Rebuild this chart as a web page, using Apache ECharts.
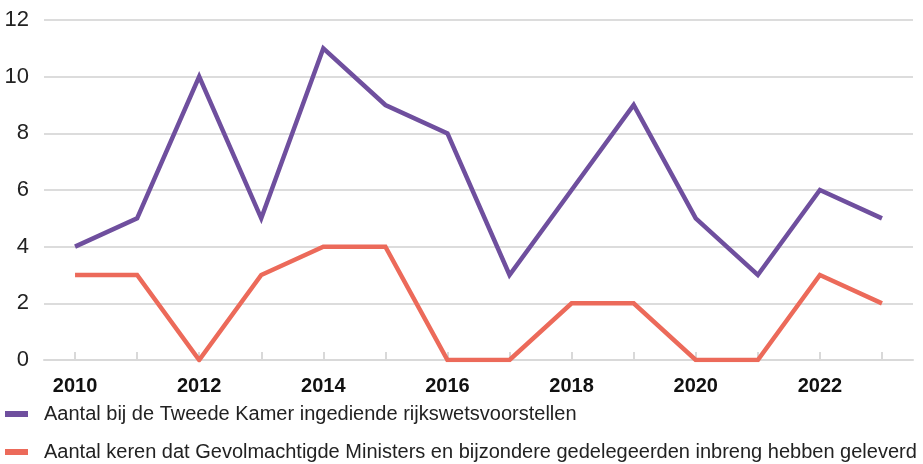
<!DOCTYPE html>
<html>
<head>
<meta charset="utf-8">
<script src="https://cdn.jsdelivr.net/npm/echarts@6/dist/echarts.min.js"></script>
<style>
  html, body { margin: 0; padding: 0; background: #fff; }
  #chart { width: 923px; height: 464px; }
</style>
</head>
<body>
<div id="chart"></div>
<script>
var years = ['2010', '2011', '2012', '2013', '2014', '2015', '2016', '2017', '2018', '2019', '2020', '2021', '2022', '2023'];
var wetsvoorstellen = [4, 5, 10, 5, 11, 9, 8, 3, 6, 9, 5, 3, 6, 5];
var inbreng = [3, 3, 0, 3, 4, 4, 0, 0, 2, 2, 0, 0, 3, 2];
var nameA = 'Aantal bij de Tweede Kamer ingediende rijkswetsvoorstellen';
var nameB = 'Aantal keren dat Gevolmachtigde Ministers en bijzondere gedelegeerden inbreng hebben geleverd';

var myChart = echarts.init(document.getElementById('chart'));
var font = 'Liberation Sans, Arial, sans-serif';

function legendFor(name, top) {
  return {
    left: 5,
    top: top,
    padding: 0,
    itemWidth: 23,
    itemHeight: 6,
    icon: 'rect',
    textStyle: { fontSize: 20, color: '#222', fontFamily: font, padding: [0, 0, 0, 11] },
    data: [name]
  };
}

myChart.setOption({
  animation: false,
  textStyle: { fontFamily: font },
  grid: { left: 44, right: 10, top: 20, bottom: 104 },
  legend: [legendFor(nameA, 404), legendFor(nameB, 442)],
  xAxis: {
    type: 'category',
    data: years,
    boundaryGap: true,
    axisLine: { lineStyle: { color: '#d9d9d9', width: 2 } },
    axisTick: { show: true, interval: 0, alignWithLabel: true, inside: true, length: 8, lineStyle: { color: '#d9d9d9', width: 2 } },
    axisLabel: { interval: 1, fontSize: 20, fontWeight: 'bold', color: '#111', margin: 16 }
  },
  yAxis: {
    type: 'value',
    min: 0,
    max: 12,
    interval: 2,
    axisLine: { show: false },
    axisTick: { show: false },
    axisLabel: { fontSize: 22, color: '#222', margin: 15 },
    splitLine: { lineStyle: { color: '#dcdcdc', width: 2 } }
  },
  series: [
    {
      name: nameA,
      type: 'line',
      data: wetsvoorstellen,
      showSymbol: false,
      color: '#6f4f9e',
      lineStyle: { width: 4.5, color: '#6f4f9e', join: 'miter' }
    },
    {
      name: nameB,
      type: 'line',
      data: inbreng,
      showSymbol: false,
      color: '#ec6a5a',
      lineStyle: { width: 4.5, color: '#ec6a5a', join: 'miter' }
    }
  ]
});
</script>
</body>
</html>
